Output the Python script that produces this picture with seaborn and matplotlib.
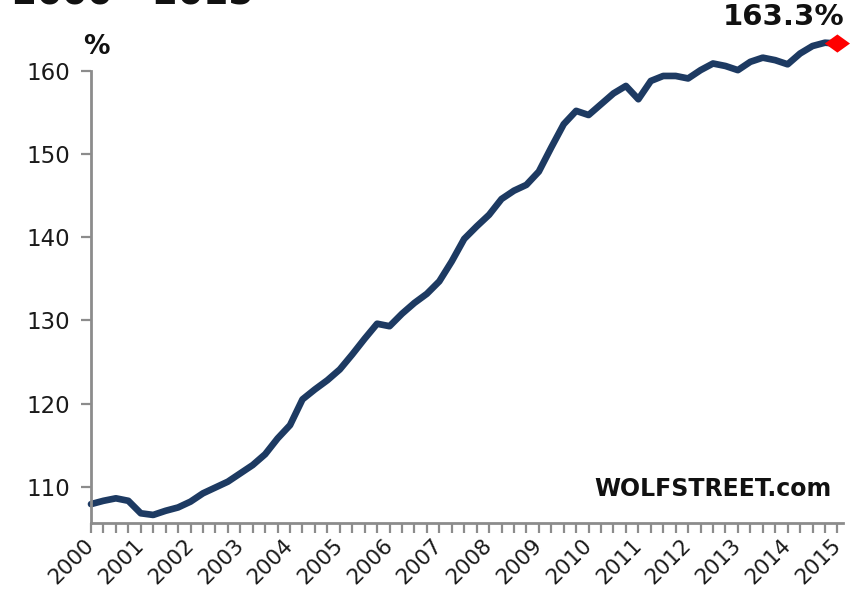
import matplotlib
matplotlib.use("Agg")
import matplotlib.pyplot as plt
import seaborn as sns
import pandas as pd
import numpy as np

# Quarterly values, 2000 Q1 .. 2015 Q1 (percent)
values = [107.9, 108.3, 108.6, 108.3, 106.8, 106.6, 107.1, 107.5,
          108.2, 109.2, 109.9, 110.6, 111.6, 112.6, 113.9, 115.8,
          117.4, 120.5, 121.7, 122.8, 124.1, 125.9, 127.8, 129.6,
          129.3, 130.8, 132.1, 133.2, 134.7, 137.1, 139.8, 141.3,
          142.7, 144.6, 145.6, 146.3, 147.9, 150.8, 153.6, 155.2,
          154.7, 156.0, 157.3, 158.2, 156.6, 158.8, 159.4, 159.4,
          159.1, 160.1, 160.9, 160.6, 160.1, 161.1, 161.6, 161.3,
          160.8, 162.1, 163.0, 163.4, 163.3]
year_labels = [str(y) for y in range(2000, 2016)]
y_ticks = [110, 120, 130, 140, 150, 160]
title_text = "2000 - 2015"
last_label = "163.3%"
unit_label = "%"
source_label = "WOLFSTREET.com"

quarter = list(range(len(values)))
df = pd.DataFrame({"quarter": quarter, "value": values})

sns.set_style("white")
plt.rcParams["font.family"] = ["DejaVu Sans"]

fig = plt.figure(figsize=(8.6, 5.92), dpi=100)
ax = fig.add_axes([91 / 860, 1 - 523 / 592, (843 - 91) / 860, (523 - 29.4) / 592])

line_color = "#1d3a62"
sns.lineplot(data=df, x="quarter", y="value", ax=ax, color=line_color,
             linewidth=4.8, clip_on=False, solid_joinstyle="round",
             solid_capstyle="round")
diamond = [(-1.0, 0.0), (0.0, 0.72), (1.0, 0.0), (0.0, -0.72), (-1.0, 0.0)]
sns.scatterplot(x=[quarter[-1]], y=[values[-1]], ax=ax, marker=diamond,
                s=330, color="#ff0000", edgecolor="none", zorder=5, clip_on=False)

ax.set_xlim(0, 60.45)
ax.set_ylim(105.63, 165)
ax.set_xlabel("")
ax.set_ylabel("")

ax.set_yticks(y_ticks)
ax.set_yticklabels([str(t) for t in y_ticks], fontsize=16.5, color="#1a1a1a")
ax.set_xticks(list(range(0, 61, 4)))
ax.set_xticklabels(year_labels, fontsize=15.5, color="#1a1a1a",
                   rotation=45, ha="right", va="center", rotation_mode="anchor")
ax.set_xticks(list(range(0, 61)), minor=True)

spine_color = "#8c8c8c"
for s in ["top", "right"]:
    ax.spines[s].set_visible(False)
for s in ["left", "bottom"]:
    ax.spines[s].set_color(spine_color)
    ax.spines[s].set_linewidth(2.0)
ax.spines["left"].set_bounds(105.63, 160)

ax.tick_params(axis="y", which="major", direction="out", length=7, width=1.6,
               color=spine_color, left=True, pad=8)
ax.tick_params(axis="x", which="both", direction="out", length=7, width=1.6,
               color=spine_color, bottom=True, pad=7)
ax.grid(False)

fig.text(12 / 860, 1 - 4 / 592, title_text, fontsize=26, fontweight="bold",
         color="#111111", ha="left", va="baseline")
ax.annotate(unit_label, xy=(0, 160), xycoords="data", xytext=(-6, 8),
            textcoords="offset points", fontsize=19, fontweight="bold",
            color="#111111", ha="left", va="bottom", annotation_clip=False)
ax.annotate(last_label, xy=(quarter[-1], values[-1]), xycoords="data",
            xytext=(5, 9), textcoords="offset points", fontsize=21,
            fontweight="bold", color="#111111", ha="right", va="bottom",
            annotation_clip=False)
ax.text(0.985, 0.045, source_label, transform=ax.transAxes, fontsize=17,
        fontweight="bold", color="#111111", ha="right", va="bottom")

fig.savefig("out.png", dpi=100, facecolor="white")
